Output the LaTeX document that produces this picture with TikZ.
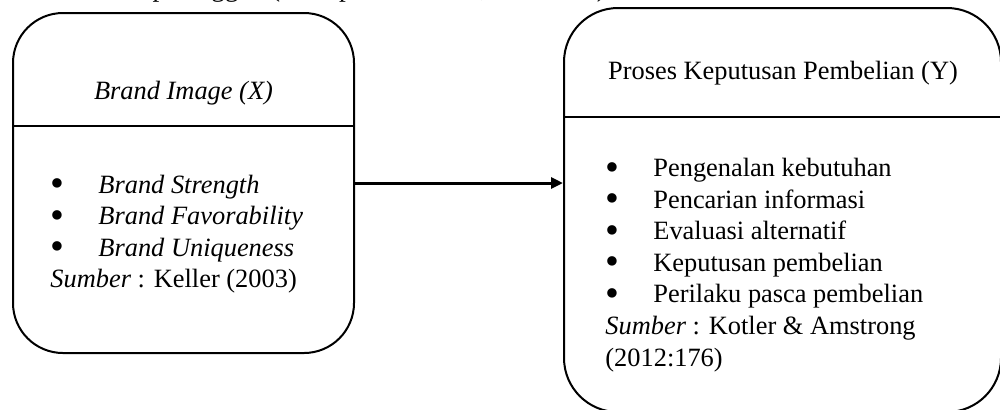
\documentclass[tikz,border=0pt]{standalone}
\usepackage{fontspec}
\setmainfont{Liberation Serif}
\usetikzlibrary{arrows.meta}
\tikzstyle{card}=[draw, line width=1pt, rounded corners=25pt, inner sep=0pt]
\tikzstyle{heading}=[inner sep=0pt, font=\fontsize{13.2}{15.5}\selectfont]
\tikzstyle{items}=[align=left, inner sep=0pt, anchor=west]
\tikzstyle{link}=[line width=1.5pt, -{Triangle[length=6pt,width=5.5pt]}]
\newcommand{\dotitem}{\makebox[24pt][l]{\raisebox{-1.8pt}{\scalebox{1.5}{\textbullet}}}}

\begin{document}
\begin{tikzpicture}[x=0.5pt, y=-0.5pt]
\useasboundingbox (0,0) rectangle (1000,409);
% Line of text cut off at the top
    \node[heading, font=\fontsize{13.6}{16}\selectfont, anchor=base east] (lead) at (613,-4) {perbuatan calon pelanggan (Markplus Institute, 2010:120).};
% Boxes
    \node[card, minimum width=170.5pt, minimum height=170pt] (image) at (183.5,183) {};
    \node[card, rounded corners=27pt, minimum width=218.5pt, minimum height=202pt] (proses) at (782.5,210) {};
% Dividers
    \draw[line width=1pt] ([yshift=-57pt]image.north west) -- ([yshift=-57pt]image.north east);
    \draw[line width=1pt] ([yshift=-55pt]proses.north west) -- ([yshift=-55pt]proses.north east);
% Titles
    \node[heading, font=\fontsize{13.2}{15.5}\selectfont\itshape] (imagetitle) at (183.5,93) {Brand Image (X)};
    \node[heading] (prosestitle) at (783,73) {Proses Keputusan Pembelian (Y)};
% Indicators
    \node[items, font=\fontsize{13.2}{15.7}\selectfont] (imagelist) at (50,234) {%
        \dotitem\textit{Brand Strength}\\
        \dotitem\textit{Brand Favorability}\\
        \dotitem\textit{Brand Uniqueness}\\
        \textit{Sumber} : Keller (2003)};
    \node[items, font=\fontsize{13.2}{15.8}\selectfont] (proseslist) at (605,265) {%
        \dotitem Pengenalan kebutuhan\\
        \dotitem Pencarian informasi\\
        \dotitem Evaluasi alternatif\\
        \dotitem Keputusan pembelian\\
        \dotitem Perilaku pasca pembelian\\
        \textit{Sumber} : Kotler \& Amstrong\\
        (2012:176)};
% Influence X -> Y
    \draw[link] (image.east) -- (image.east -| proses.west);
\end{tikzpicture}
\end{document}
